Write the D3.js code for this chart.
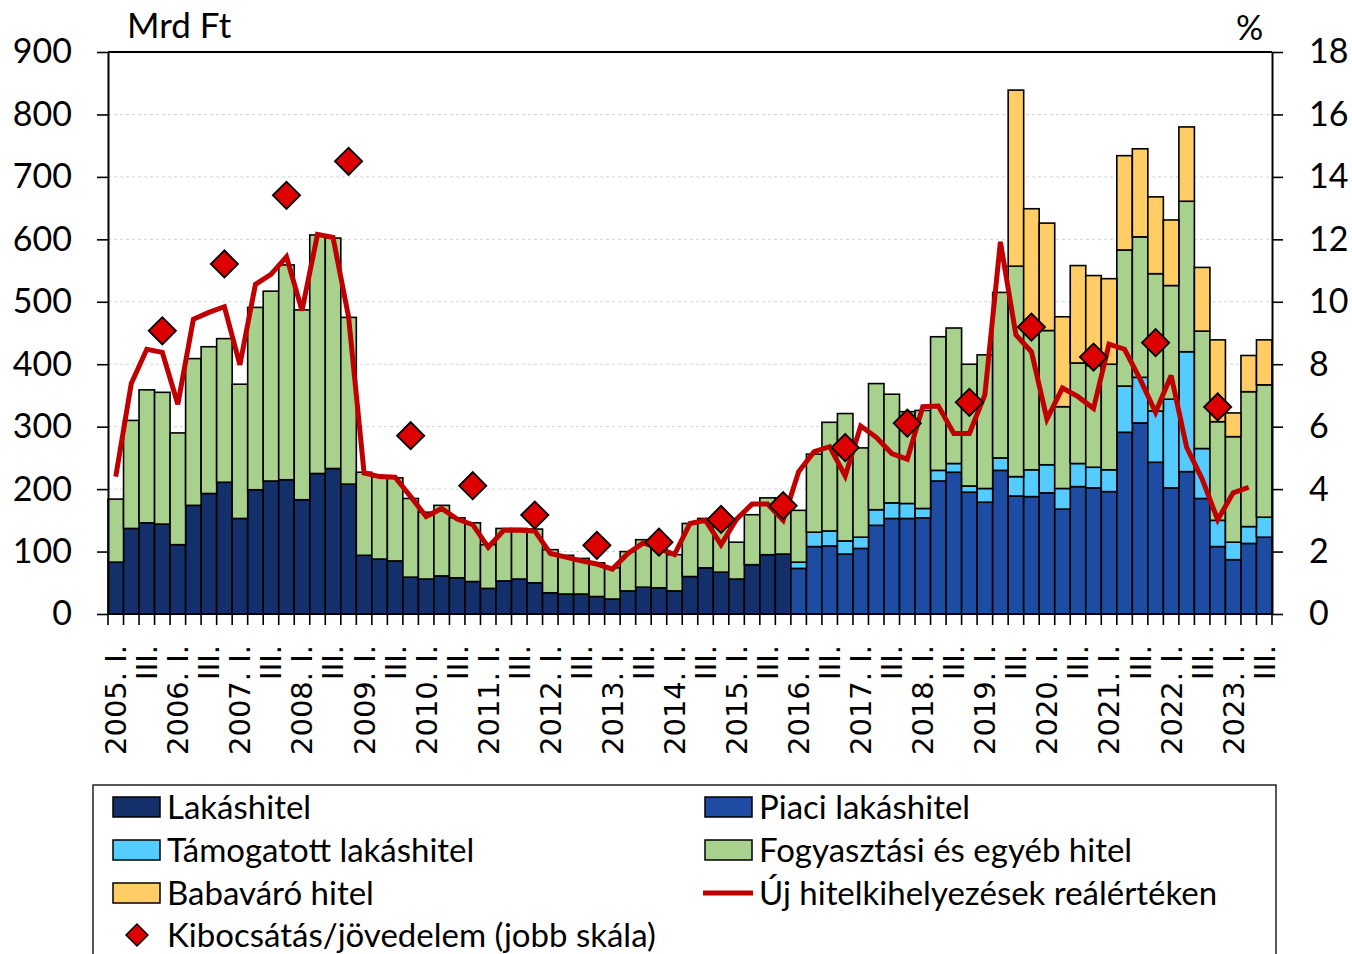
<!DOCTYPE html>
<html>
<head>
<meta charset="utf-8">
<script src="https://cdn.jsdelivr.net/npm/d3@7"></script>
<style>
  html, body { margin: 0; padding: 0; background: #ffffff; }
  svg { display: block; }
</style>
</head>
<body>
<script>
// ---------------- DATA ----------------
const years = [2005,2006,2007,2008,2009,2010,2011,2012,2013,2014,2015,2016,2017,2018,2019,2020,2021,2022,2023];
const quarterNames = ["I.", "II.", "III.", "IV."];
// 2005 Q1 ... 2023 Q3
const categories = [];
years.forEach(y => quarterNames.forEach((q, i) => { if (!(y === 2023 && i === 3)) categories.push(y + "|" + q); }));

// Lakáshitel (until 2015 Q4), Mrd Ft
const lakashitel = [83,137,146,144,111,174,193,211,153,199,213,215,183,225,233,208,
  94,88,85,59,56,61,58,52,41,53,56,50,34,32,32,28,24,37,43,42,37,60,74,67,56,79,95,96,
  0,0,0,0,0,0,0,0,0,0,0,0,0,0,0,0,0,0,0,0,0,0,0,0,0,0,0,0,0,0,0];
// Piaci lakáshitel (from 2016 Q1)
const piaci = [0,0,0,0,0,0,0,0,0,0,0,0,0,0,0,0,0,0,0,0,0,0,0,0,0,0,0,0,0,0,0,0,0,0,0,0,0,0,0,0,0,0,0,0,
  73,108,109,96,105,142,153,153,154,213,227,195,179,230,189,188,194,168,204,202,196,291,306,243,202,228,185,108,87,113,123];
// Támogatott lakáshitel
const tamogatott = [0,0,0,0,0,0,0,0,0,0,0,0,0,0,0,0,0,0,0,0,0,0,0,0,0,0,0,0,0,0,0,0,0,0,0,0,0,0,0,0,0,0,0,0,
  10,23,24,21,18,25,25,24,15,17,14,10,22,20,31,43,45,33,37,33,35,74,73,82,142,192,80,42,28,27,32];
// Fogyasztási és egyéb hitel
const fogyasztasi = [101,173,213,211,179,235,235,230,215,292,304,344,304,382,369,267,
  133,132,133,126,107,113,96,94,70,84,81,86,69,62,57,54,50,63,76,69,58,85,79,83,59,80,91,90,
  83,125,174,204,143,202,174,147,157,214,217,195,214,265,337,224,215,131,161,163,169,218,225,220,182,241,188,158,169,216,212];
// Babaváró hitel
const babavaro = [0,0,0,0,0,0,0,0,0,0,0,0,0,0,0,0,0,0,0,0,0,0,0,0,0,0,0,0,0,0,0,0,0,0,0,0,0,0,0,0,0,0,0,0,
  0,0,0,0,0,0,0,0,0,0,0,0,0,0,282,194,172,144,156,144,137,151,141,123,105,119,102,131,38,58,72];
// Új hitelkihelyezések reálértéken (left scale)
const ujHitel = [220,369,424,419,336,472,483,492,399,528,544,572,486,608,603,476,
  226,220,219,188,156,169,152,143,107,134,134,133,97,91,85,80,72,97,114,105,95,145,150,111,152,176,176,
  150,228,260,268,221,301,283,257,248,332,333,289,289,351,596,447,420,312,362,348,329,432,424,376,323,382,267,216,151,194,203];
// Kibocsátás/jövedelem (right scale, %), annual – plotted at Q4
const kibocsatasYears = [2005,2006,2007,2008,2009,2010,2011,2012,2013,2014,2015,2016,2017,2018,2019,2020,2021,2022];
const kibocsatas = [9.07,11.21,13.41,14.5,5.71,4.11,3.17,2.2,2.3,3.03,3.47,5.33,6.11,6.78,9.19,8.23,8.69,6.63];

const leftTicks = [0,100,200,300,400,500,600,700,800,900];
const rightTicks = [0,2,4,6,8,10,12,14,16,18];

const seriesKeys = ["Lakáshitel","Piaci lakáshitel","Támogatott lakáshitel","Fogyasztási és egyéb hitel","Babaváró hitel"];
const seriesArrays = [lakashitel, piaci, tamogatott, fogyasztasi, babavaro];
const colors = ["#13306b","#1d4ca2","#55ccff","#a9d18e","#ffcc66"];
const lineColor = "#c00000";
const diamondColor = "#dd0000";

// ---------------- LAYOUT ----------------
const W = 1352, H = 954;
const plot = {left:108, right:1272, top:52, bottom:614};
const numFont = "Lato, 'Open Sans', sans-serif";

const svg = d3.select("body").append("svg").attr("width", W).attr("height", H);

const x = d3.scaleBand().domain(categories).range([plot.left, plot.right]).padding(0);
const y = d3.scaleLinear().domain([0, 900]).range([plot.bottom, plot.top]);
const y2 = d3.scaleLinear().domain([0, 18]).range([plot.bottom, plot.top]);
const cx = c => x(c) + x.bandwidth() / 2;

// gridlines
svg.append("g").selectAll("line").data(leftTicks.filter(v => v > 0 && v < 900)).join("line")
  .attr("x1", plot.left).attr("x2", plot.right)
  .attr("y1", d => y(d)).attr("y2", d => y(d))
  .attr("stroke", "#d4d4d4").attr("stroke-width", 1).attr("stroke-dasharray", "3,3");

// stacked bars
const table = categories.map((c, i) => {
  const row = {cat: c};
  seriesKeys.forEach((k, j) => row[k] = seriesArrays[j][i]);
  return row;
});
const stacked = d3.stack().keys(seriesKeys)(table);
const gBars = svg.append("g");
stacked.forEach((layer, j) => {
  gBars.append("g").selectAll("rect").data(layer.filter(d => d[1] - d[0] > 0)).join("rect")
    .attr("x", d => x(d.data.cat))
    .attr("width", x.bandwidth())
    .attr("y", d => y(d[1]))
    .attr("height", d => y(d[0]) - y(d[1]))
    .attr("fill", colors[j])
    .attr("stroke", "#000").attr("stroke-width", 1.6);
});

// line
const line = d3.line().x((d, i) => cx(categories[i])).y(d => y(d));
svg.append("path").datum(ujHitel).attr("d", line)
  .attr("fill", "none").attr("stroke", lineColor).attr("stroke-width", 5)
  .attr("stroke-linejoin", "miter").attr("stroke-miterlimit", 3);

// diamonds
const diamond = d3.symbol().type(d3.symbolSquare).size(370);
svg.append("g").selectAll("path").data(kibocsatas).join("path")
  .attr("d", diamond)
  .attr("transform", (d, i) => `translate(${cx(kibocsatasYears[i] + "|IV.")},${y2(d)}) rotate(45)`)
  .attr("fill", diamondColor).attr("stroke", "#000").attr("stroke-width", 1.8);

// axes
const axisStyle = g => {
  g.selectAll(".domain").attr("stroke", "#000").attr("stroke-width", 2);
  g.selectAll(".tick line").attr("stroke", "#000").attr("stroke-width", 1.6);
  g.selectAll("text").attr("font-family", numFont).attr("font-size", 34).attr("fill", "#000");
};
svg.append("g").attr("transform", `translate(${plot.left},0)`)
  .call(d3.axisLeft(y).tickValues(leftTicks).tickSize(11).tickSizeOuter(0).tickPadding(25))
  .call(axisStyle);
svg.append("g").attr("transform", `translate(${plot.right},0)`)
  .call(d3.axisRight(y2).tickValues(rightTicks).tickSize(11).tickSizeOuter(0).tickPadding(26))
  .call(axisStyle);

// top frame + bottom axis
svg.append("line").attr("x1", plot.left).attr("x2", plot.right).attr("y1", plot.top).attr("y2", plot.top)
  .attr("stroke", "#000").attr("stroke-width", 2);
svg.append("line").attr("x1", plot.left).attr("x2", plot.right).attr("y1", plot.bottom).attr("y2", plot.bottom)
  .attr("stroke", "#000").attr("stroke-width", 2);

// bottom ticks at category boundaries
const boundaries = categories.map(c => x(c)).concat([plot.right]);
svg.append("g").selectAll("line").data(boundaries).join("line")
  .attr("x1", d => d).attr("x2", d => d).attr("y1", plot.bottom).attr("y2", plot.bottom + 11)
  .attr("stroke", "#000").attr("stroke-width", 1.6);

// bottom labels (I. with year, III.)
const labelCats = categories.filter(c => c.endsWith("|I.") || c.endsWith("|III."));
svg.append("g").selectAll("text").data(labelCats).join("text")
  .attr("transform", d => `translate(${cx(d)},645) rotate(-90)`)
  .attr("text-anchor", "end").attr("dy", "0.36em")
  .attr("font-family", "'DejaVu Sans', sans-serif").attr("font-size", 29).attr("fill", "#000")
  .text(d => { const [yr, q] = d.split("|"); return q === "I." ? `${yr}. I.` : "III."; });

// unit labels
svg.append("text").attr("x", 127).attr("y", 38).attr("font-family", numFont).attr("font-size", 35).text("Mrd Ft");
svg.append("text").attr("x", 1236).attr("y", 40).attr("font-family", numFont).attr("font-size", 34).text("%");

// legend
const lg = svg.append("g");
lg.append("rect").attr("x", 93).attr("y", 785).attr("width", 1183).attr("height", 200)
  .attr("fill", "none").attr("stroke", "#222").attr("stroke-width", 1.5);
const legendItems = [
  {type:"rect", color:colors[0], label:"Lakáshitel", col:0, row:0},
  {type:"rect", color:colors[1], label:"Piaci lakáshitel", col:1, row:0},
  {type:"rect", color:colors[2], label:"Támogatott lakáshitel", col:0, row:1},
  {type:"rect", color:colors[3], label:"Fogyasztási és egyéb hitel", col:1, row:1},
  {type:"rect", color:colors[4], label:"Babaváró hitel", col:0, row:2},
  {type:"line", color:lineColor, label:"Új hitelkihelyezések reálértéken", col:1, row:2},
  {type:"diamond", color:diamondColor, label:"Kibocsátás/jövedelem (jobb skála)", col:0, row:3}
];
const colX = [113, 705];
const rowY = [807, 850, 893, 935];
legendItems.forEach(it => {
  const sx = colX[it.col], sy = rowY[it.row];
  if (it.type === "rect") {
    lg.append("rect").attr("x", sx).attr("y", sy - 10).attr("width", 47).attr("height", 20)
      .attr("fill", it.color).attr("stroke", "#000").attr("stroke-width", 1.5);
  } else if (it.type === "line") {
    lg.append("line").attr("x1", sx - 2).attr("x2", sx + 48).attr("y1", sy).attr("y2", sy)
      .attr("stroke", it.color).attr("stroke-width", 5);
  } else {
    lg.append("path").attr("d", d3.symbol().type(d3.symbolSquare).size(240))
      .attr("transform", `translate(${sx + 24},${sy}) rotate(45)`)
      .attr("fill", it.color).attr("stroke", "#000").attr("stroke-width", 1.5);
  }
  lg.append("text").attr("x", sx + 54).attr("y", sy).attr("dy", "0.35em")
    .attr("font-family", numFont).attr("font-size", 33).attr("fill", "#000").text(it.label);
});
</script>
</body>
</html>
